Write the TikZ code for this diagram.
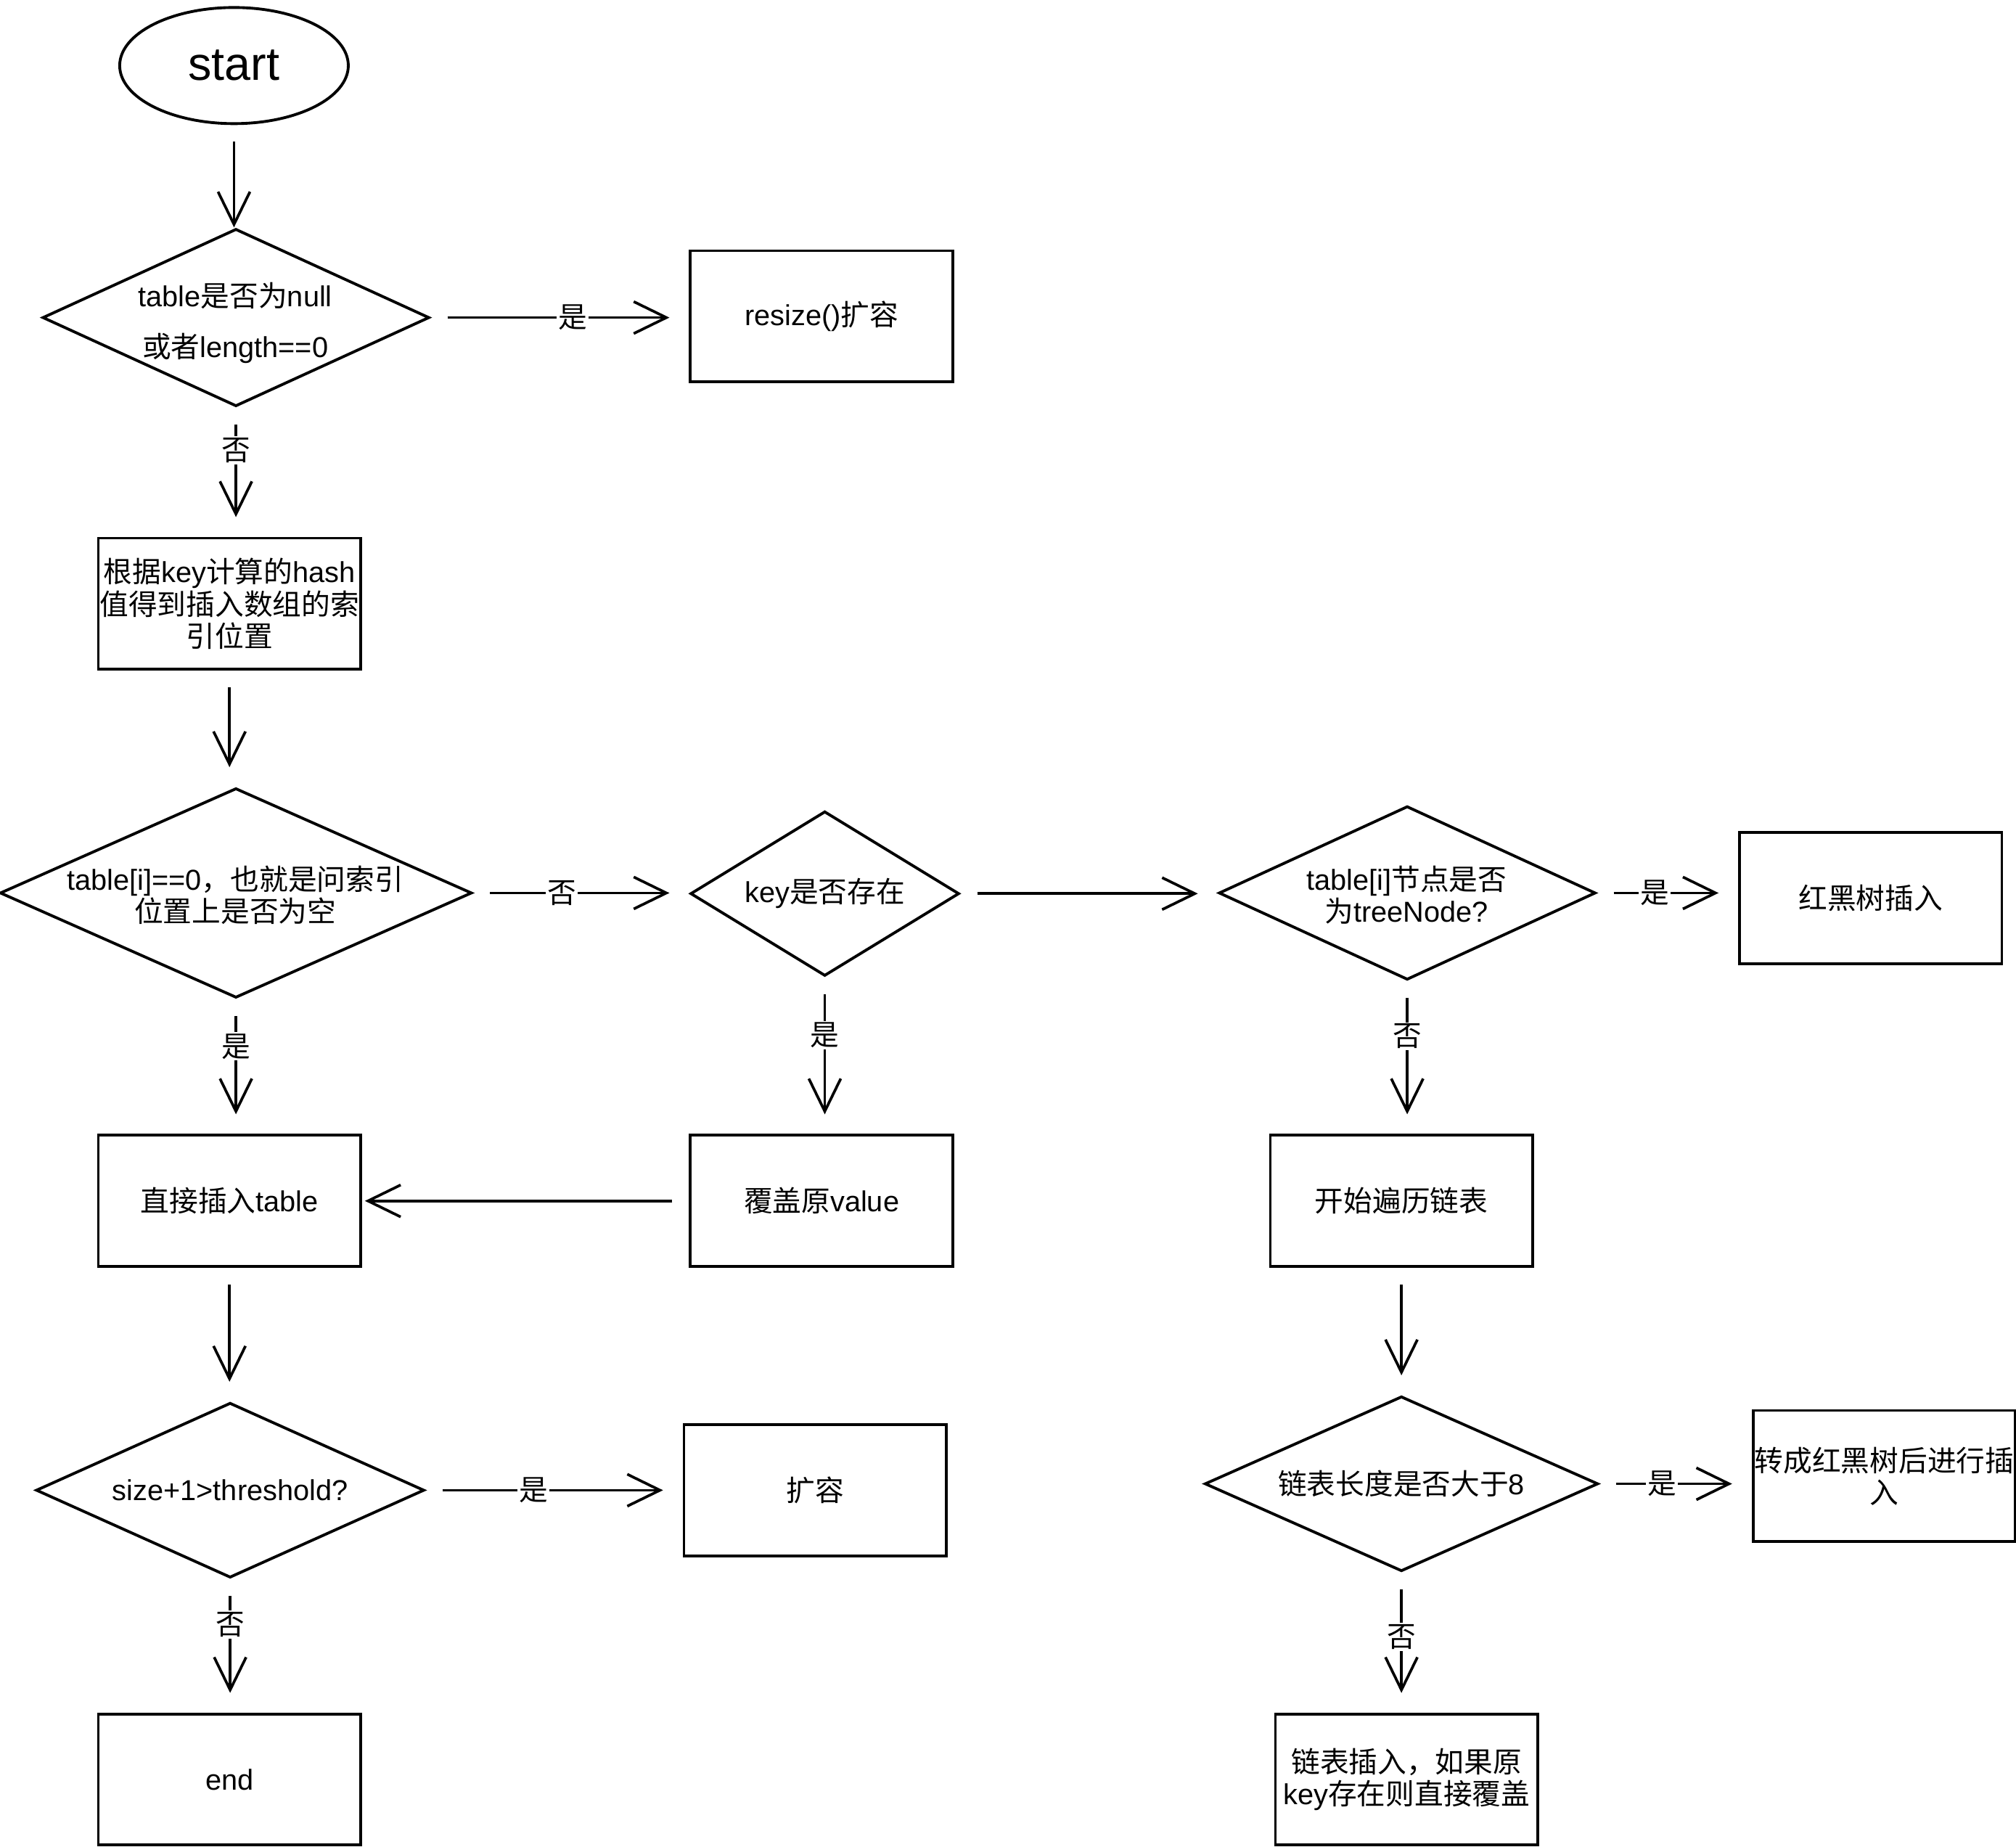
\documentclass[tikz,border=0pt]{standalone}
\usepackage{fontspec}
\setmainfont{Liberation Sans}
\newfontfamily\cjk{Noto Sans CJK SC}
\newcommand\zh[1]{{\cjk #1}}
\usetikzlibrary{arrows.meta,shapes.geometric}
\begin{document}
\begin{tikzpicture}[x=0.017717cm,y=-0.017717cm,
  every node/.style={font=\fontsize{11.3}{12.6}\selectfont},
  shp/.style={draw, line width=1.1pt, inner sep=0pt, align=center},
  box/.style={shp, rectangle, minimum width=3.614cm, minimum height=1.807cm},
  dec/.style={shp, diamond},
  arr/.style={line width=1.05pt, -{Straight Barb[length=0.45cm,width=0.44cm]},
              shorten <=0.23cm, shorten >=0.27cm},
  lbl/.style={fill=white, inner sep=0.6pt}]
\useasboundingbox (0,0) rectangle (1568,1436);

% start terminal
\node[shp, ellipse, minimum width=3.15cm, minimum height=1.6cm,
      font=\fontsize{18.4}{20}\selectfont] (start) at (182,51) {start};

% table null check
\node[dec, minimum width=5.33cm, minimum height=2.445cm] (d1) at (183.5,247) {};
\node[align=center, font=\fontsize{11.3}{20}\selectfont] (d1t) at (183,251)
  {table\zh{是否为}null\\\zh{或者}length==0};
\node[box] (resize) at (639,246) {resize()\zh{扩容}};

% index from hash
\node[box] (hash) at (178.5,469.5)
  {\zh{根据}key\zh{计算的}hash\\\zh{值得到插入数组的索}\\\zh{引位置}};

% slot empty check
\node[dec, minimum width=6.502cm, minimum height=2.888cm] (d2) at (183.5,694.5) {};
\node[align=center] (d2t) at (183,696)
  {table[i]==0\zh{，也就是问索引}\\\zh{位置上是否为空}};

% key exists check
\node[dec, minimum width=3.703cm, minimum height=2.268cm] (d3) at (641.5,695) {};
\node (d3t) at (641.5,695) {key\zh{是否存在}};

% tree node check
\node[dec, minimum width=5.191cm, minimum height=2.392cm] (d4) at (1094.5,694.5) {};
\node[align=center] (d4t) at (1094,696) {table[i]\zh{节点是否}\\\zh{为}treeNode?};
\node[box] (rb) at (1455,698.5) {\zh{红黑树插入}};

% second row of boxes
\node[box] (cover) at (639,934) {\zh{覆盖原}value};
\node[box] (direct) at (178.5,934) {\zh{直接插入}table};
\node[box] (trav) at (1090,934) {\zh{开始遍历链表}};

% threshold check
\node[dec, minimum width=5.35cm, minimum height=2.41cm] (d5) at (179,1159) {};
\node (d5t) at (179,1159) {size+1>threshold?};
\node[box] (grow) at (634,1159) {\zh{扩容}};
\node[box] (fin) at (178.5,1384) {end};

% list length check
\node[dec, minimum width=5.421cm, minimum height=2.41cm] (d6) at (1090,1154) {};
\node (d6t) at (1090,1154) {\zh{链表长度是否大于}8};
\node[box] (conv) at (1465.5,1148) {\zh{转成红黑树后进行插}\\\zh{入}};
\node[box] (list) at (1094,1384) {\zh{链表插入，如果原}\\key\zh{存在则直接覆盖}};

% connectors
\draw[arr, shorten >=0pt] (start.south) -- (start.south |- d1.north);
\draw[arr] (d1.east) -- (d1.east -| resize.west) node[lbl,pos=0.55] {\zh{是}};
\draw[arr] (d1.south) -- (d1.south |- hash.north) node[lbl,pos=0.33] {\zh{否}};
\draw[arr] (hash.south) -- (hash.south |- d2.north);
\draw[arr] (d2.east) -- (d2.east -| d3.west) node[lbl,pos=0.41] {\zh{否}};
\draw[arr] (d3.east) -- (d3.east -| d4.west);
\draw[arr] (d4.east) -- (d4.east -| rb.west) node[lbl,pos=0.41] {\zh{是}};
\draw[arr] (d4.south) -- (d4.south |- trav.north) node[lbl,pos=0.36] {\zh{否}};
\draw[arr] (d3.south) -- (d3.south |- cover.north) node[lbl,pos=0.37] {\zh{是}};
\draw[arr, shorten >=0.04cm] (cover.west) -- (cover.west -| direct.east);
\draw[arr] (d2.south) -- (d2.south |- direct.north) node[lbl,pos=0.35] {\zh{是}};
\draw[arr] (direct.south) -- (direct.south |- d5.north);
\draw[arr] (d5.east) -- (d5.east -| grow.west) node[lbl,pos=0.42] {\zh{是}};
\draw[arr] (d5.south) -- (d5.south |- fin.north) node[lbl,pos=0.34] {\zh{否}};
\draw[arr] (trav.south) -- (trav.south |- d6.north);
\draw[arr] (d6.east) -- (d6.east -| conv.west) node[lbl,pos=0.41] {\zh{是}};
\draw[arr] (d6.south) -- (d6.south |- list.north) node[lbl,pos=0.46] {\zh{否}};
\end{tikzpicture}
\end{document}
